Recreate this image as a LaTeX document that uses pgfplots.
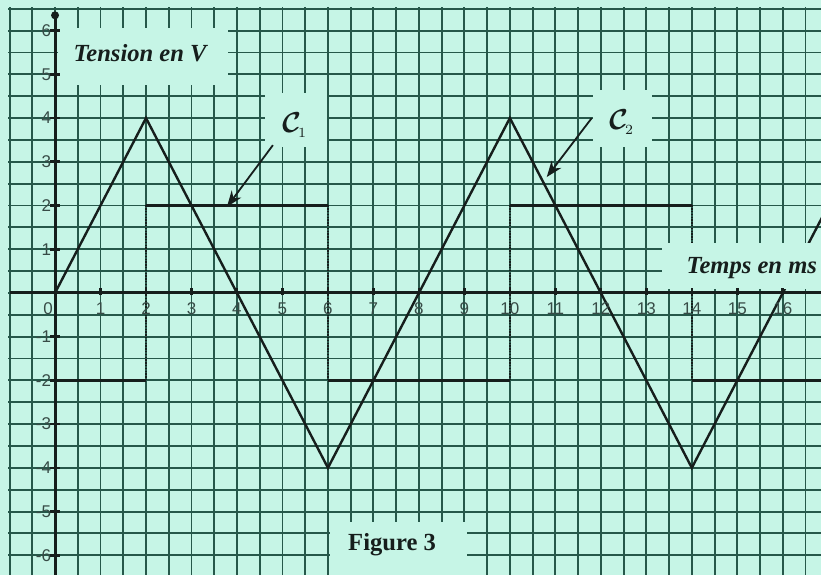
\documentclass[border=0pt]{standalone}
\usepackage{pgfplots}
\pgfplotsset{compat=1.18}
\usepackage{amsmath}
\usepackage{fontspec}
\setmainfont{Liberation Serif}
\newfontfamily\ticksans{Liberation Sans}
\usetikzlibrary{arrows.meta}
\definecolor{paper}{RGB}{198,245,230}
\definecolor{gridline}{RGB}{38,88,74}
\definecolor{ink}{RGB}{22,30,28}
\definecolor{ticktext}{RGB}{55,75,70}

\begin{document}
\begin{tikzpicture}
\begin{axis}[
	scale only axis,
	width=410.5pt, height=287.5pt,
	xmin=-1.21, xmax=16.84, ymin=-6.45, ymax=6.70,
	axis background/.style={fill=paper},
	axis line style={draw=none},
	xtick={-1,-0.5,...,17}, ytick={-6.5,-6,...,6.5},
	xticklabels={}, yticklabels={},
	major tick length=0pt,
	grid=major,
	grid style={gridline, line width=0.95pt},
	unbounded coords=jump,
]
% grid starts at x=-1 and y=6.5
\fill[paper] (axis cs:-1.4,-7) rectangle (axis cs:-1.03,7);
\fill[paper] (axis cs:-1.4,6.53) rectangle (axis cs:17,7);

% C2 : triangle
\addplot[ink, line width=1.2pt] coordinates {
	(0,0)(2,4)(6,-4)(10,4)(14,-4)(18,4)
};
% C1 : square wave
\addplot[ink, line width=1.2pt] coordinates {
	(0,-2)(2,-2) (nan,nan) (2,2)(6,2) (nan,nan) (6,-2)(10,-2)
	(nan,nan) (10,2)(14,2) (nan,nan) (14,-2)(18,-2)
};
\addplot[ink, line width=0.9pt, dash pattern=on 0.7pt off 0.7pt] coordinates {
	(2,-2)(2,2) (nan,nan) (6,2)(6,-2) (nan,nan) (10,-2)(10,2)
	(nan,nan) (14,2)(14,-2)
};

% label boxes
\fill[paper] (axis cs:0.06,4.75) rectangle (axis cs:3.8,6.06);
\fill[paper] (axis cs:4.62,3.34) rectangle (axis cs:5.98,4.57);
\fill[paper] (axis cs:11.82,3.34) rectangle (axis cs:13.12,4.64);
\fill[paper] (axis cs:13.34,0.1) rectangle (axis cs:17,1.14);
\fill[paper] (axis cs:6.04,-7) rectangle (axis cs:9.05,-5.23);

% axes
\draw[ink, line width=1.5pt] (axis cs:0,-6.6) -- (axis cs:0,6.35);
\fill[ink] (axis cs:0,6.35) circle[radius=2pt];
\draw[ink, line width=1.5pt] (axis cs:-1,0) -- (axis cs:17,0);

\pgfplotsinvokeforeach{1,...,16}{
	\draw[ink, line width=1.3pt] (axis cs:#1,-0.05) -- (axis cs:#1,0.12);
	\node[font=\ticksans\fontsize{8.5}{10}\selectfont, text=ticktext] at (axis cs:#1,-0.36) {#1};
}
\node[font=\ticksans\fontsize{8.5}{10}\selectfont, text=ticktext] at (axis cs:-0.15,-0.36) {0};
\pgfplotsinvokeforeach{1,...,6}{
	\draw[ink, line width=1.3pt] (axis cs:-0.1,#1) -- (axis cs:0.1,#1);
	\draw[ink, line width=1.3pt] (axis cs:-0.1,-#1) -- (axis cs:0.1,-#1);
	\node[font=\ticksans\fontsize{8.5}{10}\selectfont, text=ticktext, anchor=east, inner sep=0pt] at (axis cs:-0.08,#1) {#1};
	\node[font=\ticksans\fontsize{8.5}{10}\selectfont, text=ticktext, anchor=east, inner sep=0pt] at (axis cs:-0.08,-#1) {-#1};
}

% texts
\node[font=\fontsize{12.3}{14}\selectfont\bfseries\itshape, text=ink] at (axis cs:1.87,5.49) {Tension en V};
\node[font=\fontsize{12.3}{14}\selectfont\bfseries\itshape, text=ink] at (axis cs:15.32,0.57) {Temps en ms};
\node[font=\fontsize{12.3}{14}\selectfont\bfseries, text=ink] at (axis cs:7.41,-5.76) {Figure 3};
\node[font=\fontsize{14}{16}\selectfont, text=ink] at (axis cs:5.27,3.84) {$\boldsymbol{\mathcal{C}}_{\!\scriptscriptstyle 1}$};
\node[font=\fontsize{14}{16}\selectfont, text=ink] at (axis cs:12.46,3.91) {$\boldsymbol{\mathcal{C}}_{\!\scriptscriptstyle 2}$};

% arrows
\draw[ink, line width=0.9pt, -{Stealth[length=8pt,width=6pt]}] (axis cs:4.79,3.38) -- (axis cs:3.78,1.97);
\draw[ink, line width=0.9pt, -{Stealth[length=8pt,width=6pt]}] (axis cs:11.80,4.0) -- (axis cs:10.81,2.65);
\end{axis}
\pgfresetboundingbox
\useasboundingbox (current axis.south west) rectangle (current axis.north east);
\end{tikzpicture}
\end{document}
